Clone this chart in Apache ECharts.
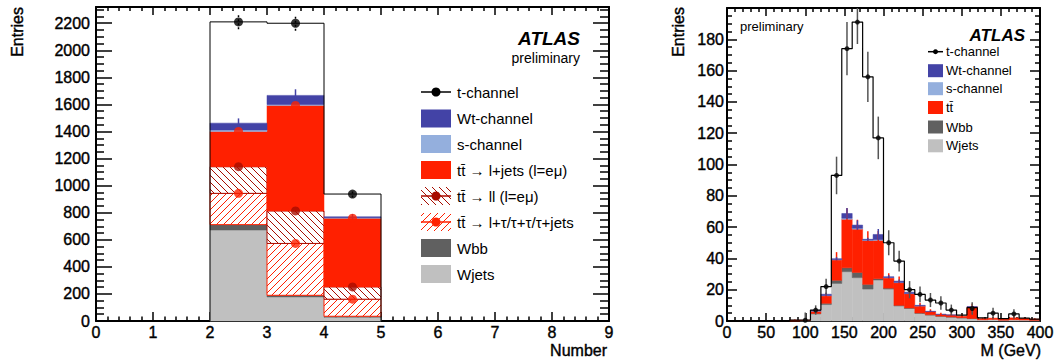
<!DOCTYPE html>
<html>
<head>
<meta charset="utf-8">
<script src="https://cdn.jsdelivr.net/npm/echarts@6/dist/echarts.min.js"></script>
<style>
  html, body { margin: 0; padding: 0; background: #fff; }
  #chart { width: 1059px; height: 360px; }
</style>
</head>
<body>
<div id="chart"></div>
<script>
// ---- left panel: jet multiplicity, bins [2,3), [3,4), [4,5) ----
var nEdges   = [2, 3, 4, 5];
var nWjets   = [672, 178, 28];
var nWbb     = [40, 12, 7];
var nTtTau   = [231, 383, 126];
var nTtLL    = [197, 240, 91];
var nTtLjets = [260, 780, 508];
var nSchan   = [12, 7, 3];
var nWt      = [50, 67, 7];
var nTotal   = [2210, 2200, 938];
var nTotalErr = [55, 55, 25];
var nWtErr   = [35, 45, 20];

// ---- right panel: M (GeV), 30 bins from 0 to 400 ----
var mRange  = [0, 400];
var mWjets  = [0, 0, 0, 0, 0, 0, 0, 0.3, 4.5, 10.5, 24, 31.5, 27.7, 20.4, 26.2, 20.4, 9.6, 8, 4.9, 3.8, 3, 2.5, 2, 1.5, 0.8, 1, 0.5, 0.8, 0.6, 0.4];
var mWbb    = [0, 0, 0, 0, 0, 0, 0, 0, 0.3, 0.8, 2, 2.5, 3.3, 3, 0.8, 0.6, 0.4, 0.3, 0.2, 0.2, 0.1, 0.1, 0.1, 0.1, 0, 0, 0, 0, 0, 0];
var mTt     = [0, 0, 0, 0, 0, 0, 0.5, 0.2, 1.5, 4.8, 13, 31, 27.7, 28, 24.5, 6.5, 14.5, 9.2, 4.5, 2, 1.1, 1.2, 0.9, 7.4, 0.7, 0.8, 0.7, 1.2, 1, 0.8];
var mSchan  = [0, 0, 0, 0, 0, 0, 0, 0, 0.1, 0.2, 0.3, 0.7, 0.6, 0.3, 0.5, 0.3, 0.2, 0.1, 0.1, 0, 0, 0, 0, 0, 0, 0, 0, 0, 0, 0];
var mWt     = [0, 0, 0, 0, 0, 0, 0, 0, 0.4, 0.8, 0.5, 3, 2, 0.5, 3.3, 0.5, 0.8, 0.8, 0.3, 0.2, 0.1, 0.1, 0, 0.2, 0, 0, 0, 0, 0, 0];
var mTtErr  = [0, 0, 0, 0, 0, 0, 0.5, 0.5, 1, 2, 5, 7, 6, 6, 6, 3, 4, 3, 2, 1.5, 1, 1, 1, 2, 0.5, 0.5, 0.5, 1, 0.5, 0.5];
var mWtErr  = [0, 0, 0, 0, 0, 0, 0, 0, 0.5, 1, 1, 3.5, 3, 1, 3.5, 1, 1, 1, 0.5, 0.5, 0, 0, 0, 0, 0, 0, 0, 0, 0, 0];
var mTotal  = [0, 0, 0, 0, 0, 0, 0.5, 0.5, 7, 22, 93, 174, 191, 156, 117, 50, 38.3, 20, 17, 13.4, 11.5, 7, 3.8, 8.5, 2, 5, 1.5, 4.5, 1.8, 1.2];
var mPoint  = [null, null, null, null, null, null, null, 0.5, 7, 22, 93, 174, 191, 156, 117, 50, 38.3, 20, 17, 13.4, 11.5, 7, null, 8, null, 5, null, 4.5, null, null];
var mErr    = [0, 0, 0, 0, 0, 0, 0, 5, 3, 5, 12, 17, 14, 16, 13.6, 8, 6.6, 5.5, 5, 4.5, 4.3, 3.5, 0, 4, 0, 3.5, 0, 3, 0, 0];

var leftLegend  = ['t-channel', 'Wt-channel', 's-channel', 'tt\u0304 \u2192 l+jets (l=e\u03bc)', 'tt\u0304 \u2192 ll (l=e\u03bc)', 'tt\u0304 \u2192 l+\u03c4/\u03c4+\u03c4/\u03c4+jets', 'Wbb', 'Wjets'];
var rightLegend = ['t-channel', 'Wt-channel', 's-channel', 'tt\u0304', 'Wbb', 'Wjets'];

var FONT = '"Liberation Sans", Arial, Helvetica, sans-serif';
var RED = '#ff2000', DARKRED = '#a80c00', BLUE = '#4343a6', LIGHTBLUE = '#94afdd';
var DGREY = '#606060', LGREY = '#c0c0c0';

var chart = echarts.init(document.getElementById('chart'), null, { renderer: 'svg' });

function seg(x1, y1, x2, y2, color, width, dash) {
    return { type: 'line', shape: { x1: x1, y1: y1, x2: x2, y2: y2 },
        style: { stroke: color, lineWidth: width || 1, lineDash: dash || null }, silent: true };
}

// diagonal hatch lines clipped to a pixel box; dir>0 is "/", dir<0 is "\"
function hatch(x, y, w, h, dir, gap, color) {
    var out = [], xr = x + w, yb = y + h, c, xa, xb;
    if (dir > 0) {
        for (c = Math.ceil((x + y) / gap) * gap; c <= xr + yb; c += gap) {
            xa = Math.max(x, c - yb); xb = Math.min(xr, c - y);
            if (xb - xa > 0.5) out.push(seg(xa, c - xa, xb, c - xb, color));
        }
    } else {
        for (c = Math.ceil((x - yb) / gap) * gap; c <= xr - y; c += gap) {
            xa = Math.max(x, c + y); xb = Math.min(xr, c + yb);
            if (xb - xa > 0.5) out.push(seg(xa, xa - c, xb, xb - c, color));
        }
    }
    return out;
}

function stack(layers) {
    var base = layers[0].map(function () { return 0; });
    return layers.map(function (vals) {
        return vals.map(function (v, i) {
            var b = base[i];
            base[i] = b + v;
            return [b, b + v];
        });
    });
}

function barRender(fill, stroke, hatchDir) {
    return function (params, api) {
        var p0 = api.coord([api.value(0), api.value(3)]);
        var p1 = api.coord([api.value(1), api.value(2)]);
        var x = p0[0], y = p0[1], w = p1[0] - p0[0], h = p1[1] - p0[1];
        var rect = { type: 'rect', shape: { x: x, y: y, width: w, height: h },
            style: { fill: fill, stroke: stroke || fill, lineWidth: stroke ? 1 : 0.5 } };
        if (!hatchDir) return rect;
        return { type: 'group', children: [rect].concat(hatch(x, y, w, h, hatchDir, 7, stroke)) };
    };
}

function errRender(color, width, dash, yMax) {
    return function (params, api) {
        var v = api.value(1), e = api.value(2);
        var a = api.coord([api.value(0), Math.max(0, v - e)]);
        var b = api.coord([api.value(0), Math.min(yMax, v + e)]);
        return seg(a[0], a[1], b[0], b[1], color, width, dash);
    };
}

function barSeries(name, data, ax, fill, stroke, hatchDir) {
    return { name: name, type: 'custom', xAxisIndex: ax, yAxisIndex: ax, renderItem: barRender(fill, stroke, hatchDir),
        data: data.filter(function (d) { return d[3] > d[2]; }), encode: { x: [0, 1], y: [2, 3] }, z: 2 };
}

// left panel stacks
var nLayers = stack([nWjets, nWbb, nTtTau, nTtLL, nTtLjets, nSchan, nWt]);
function nData(k) {
    return nLayers[k].map(function (r, i) { return [nEdges[i], nEdges[i + 1], r[0], r[1]]; });
}
function nCenters(vals) {
    return vals.map(function (v, i) { return [(nEdges[i] + nEdges[i + 1]) / 2, v]; });
}
var nStep = [[nEdges[0], 0]];
nTotal.forEach(function (v, i) { nStep.push([nEdges[i], v], [nEdges[i + 1], v]); });
nStep.push([nEdges[nEdges.length - 1], 0]);

// right panel stacks
var mW = (mRange[1] - mRange[0]) / mTotal.length;
var mLayers = stack([mWjets, mWbb, mTt, mSchan, mWt]);
function mData(k) {
    return mLayers[k].map(function (r, i) { return [mRange[0] + i * mW, mRange[0] + (i + 1) * mW, r[0], r[1]]; });
}
function mErrData(k, errs) {
    var out = [];
    mLayers[k].forEach(function (r, i) {
        if (errs[i] > 0) out.push([mRange[0] + (i + 0.5) * mW, r[1], errs[i]]);
    });
    return out;
}
var mStep = [[mRange[0], 0]];
mTotal.forEach(function (v, i) { mStep.push([mRange[0] + i * mW, v], [mRange[0] + (i + 1) * mW, v]); });
mStep.push([mRange[1], 0]);
var mPts = [], mErrPts = [];
mPoint.forEach(function (v, i) {
    if (v === null) return;
    var xc = mRange[0] + (i + 0.5) * mW;
    mPts.push([xc, v]);
    if (mErr[i] > 0) mErrPts.push([xc, v, mErr[i]]);
});

var N_MAX = 2320, M_MAX = 200;

function axis(o, tickLen, minorLen, minorSplit, label) {
    return Object.assign({
        type: 'value',
        splitLine: { show: false },
        axisLine: { show: true, onZero: false, lineStyle: { color: '#000', width: 2 } },
        axisTick: { show: true, inside: true, length: tickLen, lineStyle: { color: '#000', width: 1.5 } },
        minorTick: { show: true, splitNumber: minorSplit, length: minorLen, lineStyle: { color: '#000', width: 1.5 } },
        axisLabel: label ? Object.assign({ show: true, color: '#000', fontSize: 16, fontFamily: FONT,
            textBorderColor: '#000', textBorderWidth: 0.4,
            formatter: function (v) { return String(v); } }, label) : { show: false }
    }, o);
}

// legends and texts
var graphics = [];
function txt(x, y, s, size, o) {
    graphics.push(Object.assign({ type: 'text', x: x, y: y, silent: true,
        style: Object.assign({ text: s, fill: '#000', fontSize: size, fontFamily: FONT,
            align: 'left', textAlign: 'left', verticalAlign: 'middle', textVerticalAlign: 'middle' }, o && o.style) },
        o && o.rotation ? { rotation: o.rotation } : {}));
}
function box(x, y, w, h, fill) {
    graphics.push({ type: 'rect', shape: { x: x, y: y, width: w, height: h }, style: { fill: fill }, silent: true });
}
var heavy = { stroke: '#000', lineWidth: 0.4 };

// left legend
var lx = 421, lw = 30, ly = [92, 118.5, 144, 170, 196, 222, 248, 274];
graphics.push(seg(lx, ly[0], lx + lw, ly[0], '#000', 1.5));
graphics.push({ type: 'circle', shape: { cx: lx + lw / 2, cy: ly[0], r: 4.5 }, style: { fill: '#000' }, silent: true });
box(lx, ly[1] - 9, lw, 18, BLUE);
box(lx, ly[2] - 9, lw, 18, LIGHTBLUE);
box(lx, ly[3] - 9, lw, 18, RED);
hatch(lx, ly[4] - 9, lw, 18, -1, 7, DARKRED).forEach(function (g) { graphics.push(g); });
graphics.push(seg(lx, ly[4], lx + lw, ly[4], DARKRED, 1.5));
graphics.push({ type: 'circle', shape: { cx: lx + lw / 2, cy: ly[4], r: 4.5 }, style: { fill: DARKRED }, silent: true });
hatch(lx, ly[5] - 9, lw, 18, 1, 7, RED).forEach(function (g) { graphics.push(g); });
graphics.push(seg(lx, ly[5], lx + lw, ly[5], RED, 1.5));
graphics.push({ type: 'circle', shape: { cx: lx + lw / 2, cy: ly[5], r: 4.5 }, style: { fill: RED }, silent: true });
box(lx, ly[6] - 9, lw, 18, DGREY);
box(lx, ly[7] - 9, lw, 18, LGREY);
leftLegend.forEach(function (s, i) { txt(457, ly[i], s, 15); });

// right legend
var rx = 928, rw = 15, ry = [51.7, 70.7, 88.7, 107.5, 127, 145.8];
graphics.push(seg(rx, ry[0], rx + rw, ry[0], '#000', 1.5));
graphics.push({ type: 'circle', shape: { cx: rx + rw / 2, cy: ry[0], r: 2.5 }, style: { fill: '#000' }, silent: true });
[BLUE, LIGHTBLUE, RED, DGREY, LGREY].forEach(function (c, i) { box(rx, ry[i + 1] - 6.5, rw, 13, c); });
rightLegend.forEach(function (s, i) { txt(946, ry[i], s, 13); });

// titles
txt(580, 38, 'ATLAS', 19, { style: { fontWeight: 'bold', fontStyle: 'italic', align: 'right', textAlign: 'right' } });
txt(580, 58, 'preliminary', 14, { style: { align: 'right', textAlign: 'right' } });
txt(1025, 35, 'ATLAS', 17, { style: { fontWeight: 'bold', fontStyle: 'italic', align: 'right', textAlign: 'right' } });
txt(740, 26.5, 'preliminary', 13);
txt(17, 7, 'Entries', 16, { rotation: Math.PI / 2, style: Object.assign({ align: 'right', textAlign: 'right' }, heavy) });
txt(678, 7, 'Entries', 16, { rotation: Math.PI / 2, style: Object.assign({ align: 'right', textAlign: 'right' }, heavy) });
txt(607, 350, 'Number', 16, { style: Object.assign({ align: 'right', textAlign: 'right' }, heavy) });
txt(1041, 350, 'M (GeV)', 16, { style: Object.assign({ align: 'right', textAlign: 'right' }, heavy) });

var option = {
    animation: false,
    grid: [
        { left: 96, top: 7, width: 513, height: 314, containLabel: false, outerBoundsMode: 'none' },
        { left: 727, top: 8, width: 313, height: 313, containLabel: false, outerBoundsMode: 'none' }
    ],
    xAxis: [
        axis({ gridIndex: 0, min: 0, max: 9, interval: 1, position: 'bottom' }, 9, 4.5, 5, { margin: 3 }),
        axis({ gridIndex: 0, min: 0, max: 9, interval: 1, position: 'top' }, 8, 4, 5, null),
        axis({ gridIndex: 1, min: mRange[0], max: mRange[1], interval: 50, position: 'bottom' }, 8, 4, 5, { margin: 3 }),
        axis({ gridIndex: 1, min: mRange[0], max: mRange[1], interval: 50, position: 'top' }, 8, 4, 5, null)
    ],
    yAxis: [
        axis({ gridIndex: 0, min: 0, max: N_MAX, interval: 200, position: 'left' }, 16, 8, 4, { margin: 6, showMaxLabel: false }),
        axis({ gridIndex: 0, min: 0, max: N_MAX, interval: 200, position: 'right' }, 16, 9, 4, null),
        axis({ gridIndex: 1, min: 0, max: M_MAX, interval: 20, position: 'left' }, 10, 5, 4, { margin: 3, showMaxLabel: false }),
        axis({ gridIndex: 1, min: 0, max: M_MAX, interval: 20, position: 'right' }, 10, 5, 4, null)
    ],
    series: [
        barSeries('Wjets', nData(0), 0, LGREY),
        barSeries('Wbb', nData(1), 0, DGREY),
        barSeries('tt tau', nData(2), 0, '#fff', RED, 1),
        barSeries('tt ll', nData(3), 0, '#fff', DARKRED, -1),
        barSeries('tt l+jets', nData(4), 0, RED),
        barSeries('s-channel', nData(5), 0, LIGHTBLUE),
        barSeries('Wt-channel', nData(6), 0, BLUE),
        { type: 'line', xAxisIndex: 0, yAxisIndex: 0, data: nStep, symbol: 'none', z: 3,
            lineStyle: { color: '#000', width: 1 } },
        { type: 'custom', xAxisIndex: 0, yAxisIndex: 0, z: 4, renderItem: errRender(BLUE, 1.5, null, N_MAX),
            data: nCenters(nLayers[6].map(function (r) { return r[1]; })).map(function (p, i) { return [p[0], p[1], nWtErr[i]]; }) },
        { type: 'custom', xAxisIndex: 0, yAxisIndex: 0, z: 4, renderItem: errRender('#000', 1.5, [2, 2], N_MAX),
            data: nCenters(nTotal).map(function (p, i) { return [p[0], p[1], nTotalErr[i]]; }) },
        { type: 'scatter', xAxisIndex: 0, yAxisIndex: 0, z: 5, symbolSize: 9, itemStyle: { color: RED },
            data: nCenters(nLayers[4].map(function (r) { return r[1]; })) },
        { type: 'scatter', xAxisIndex: 0, yAxisIndex: 0, z: 5, symbolSize: 9, itemStyle: { color: DARKRED },
            data: nCenters(nLayers[3].map(function (r) { return r[1]; })) },
        { type: 'scatter', xAxisIndex: 0, yAxisIndex: 0, z: 5, symbolSize: 9, itemStyle: { color: RED },
            data: nCenters(nLayers[2].map(function (r) { return r[1]; })) },
        { type: 'scatter', xAxisIndex: 0, yAxisIndex: 0, z: 5, symbolSize: 9, itemStyle: { color: '#000' },
            data: nCenters(nTotal) },

        barSeries('Wjets', mData(0), 2, LGREY),
        barSeries('Wbb', mData(1), 2, DGREY),
        barSeries('tt', mData(2), 2, RED),
        barSeries('s-channel', mData(3), 2, LIGHTBLUE),
        barSeries('Wt-channel', mData(4), 2, BLUE),
        { type: 'custom', xAxisIndex: 2, yAxisIndex: 2, z: 3, renderItem: errRender(RED, 1.5, null, M_MAX), data: mErrData(2, mTtErr) },
        { type: 'custom', xAxisIndex: 2, yAxisIndex: 2, z: 3, renderItem: errRender(BLUE, 1.5, null, M_MAX), data: mErrData(4, mWtErr) },
        { type: 'line', xAxisIndex: 2, yAxisIndex: 2, data: mStep, symbol: 'none', z: 3,
            lineStyle: { color: '#000', width: 1.2 } },
        { type: 'custom', xAxisIndex: 2, yAxisIndex: 2, z: 4, renderItem: errRender('#555', 1.5, null, M_MAX), data: mErrPts },
        { type: 'scatter', xAxisIndex: 2, yAxisIndex: 2, z: 5, symbolSize: 5, itemStyle: { color: '#000' }, data: mPts }
    ],
    graphic: graphics
};
chart.setOption(option);
</script>
</body>
</html>
